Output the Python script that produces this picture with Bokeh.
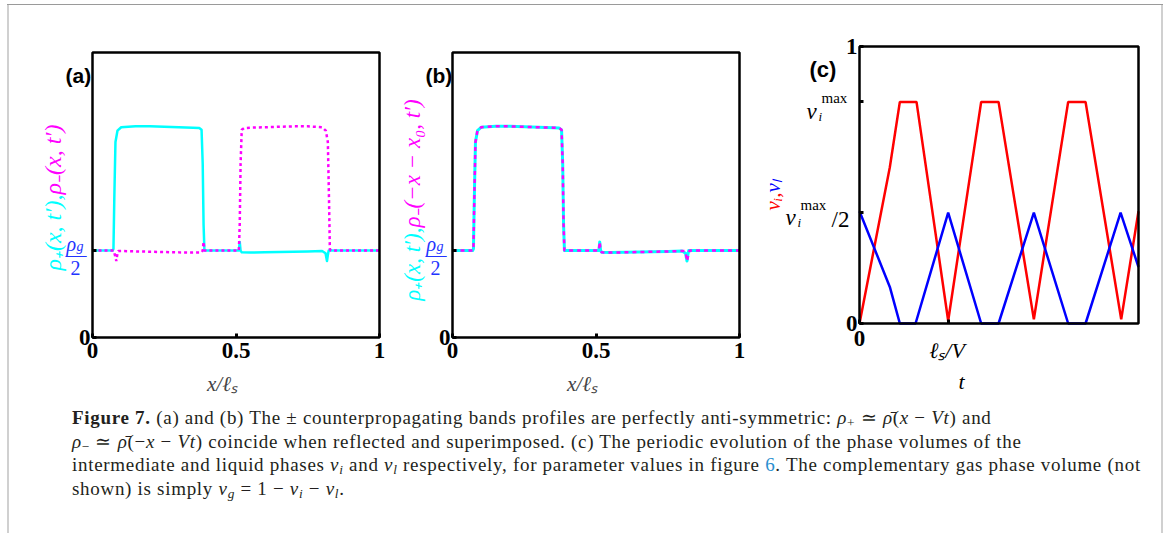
import numpy as np
from math import pi
from bokeh.plotting import figure
from bokeh.models import Div, FixedTicker, Range1d, BoxAnnotation
from bokeh.core.properties import value
from bokeh.layouts import row, column
from bokeh.embed import file_html
from bokeh.resources import INLINE

# ---------------- data ----------------
# rho_+(x, t') in units of rho_g/2, x in units of l_s
x_plus = [0.0, 0.070, 0.073, 0.076, 0.080, 0.087, 0.10, 0.15, 0.20, 0.25, 0.30, 0.35,
          0.372, 0.380, 0.384, 0.387, 0.390, 0.45, 0.510, 0.513, 0.516, 0.520, 0.55,
          0.60, 0.65, 0.70, 0.75, 0.80, 0.812, 0.817, 0.820, 0.823, 0.85, 0.90, 1.0]
rho_plus = [1.0, 1.0, 1.02, 1.6, 2.25, 2.38, 2.42, 2.43, 2.43, 2.425, 2.42, 2.415,
            2.41, 2.39, 2.0, 1.3, 1.0, 1.0, 1.0, 1.1, 1.0, 0.98, 0.978,
            0.98, 0.983, 0.987, 0.99, 0.995, 0.97, 0.88, 0.95, 1.0, 1.0, 1.0, 1.0]

# rho_-(x, t') in the same units
x_minus = [0.0, 0.074, 0.078, 0.083, 0.087, 0.09, 0.10, 0.20, 0.30, 0.35, 0.380,
           0.384, 0.387, 0.390, 0.45, 0.510, 0.513, 0.516, 0.520, 0.528, 0.55, 0.60,
           0.65, 0.70, 0.75, 0.80, 0.813, 0.820, 0.824, 0.827, 0.830, 0.90, 1.0]
rho_minus = [1.0, 1.0, 0.95, 0.88, 0.97, 0.995, 0.995, 0.987, 0.98, 0.978, 0.98,
             1.0, 1.1, 1.0, 1.0, 1.0, 1.3, 2.0, 2.39, 2.41, 2.415, 2.42,
             2.425, 2.43, 2.43, 2.42, 2.38, 2.25, 1.6, 1.02, 1.0, 1.0, 1.0]
x0_shift = 0.1          # x0 in rho_-(-x - x0, t')

# phase volumes over time (t in units of l_s / V)
t_i = [0.0, 0.342, 0.455, 0.643, 1.0, 1.372, 1.568, 1.966, 2.353, 2.549, 2.951, 3.146]
nu_i = [0.0, 0.564, 0.8, 0.8, 0.01, 0.8, 0.8, 0.015, 0.8, 0.8, 0.015, 0.405]
t_l = [0.0, 0.342, 0.455, 0.632, 1.0, 1.372, 1.568, 1.966, 2.353, 2.549, 2.944, 3.146]
nu_l = [0.405, 0.132, 0.0, 0.0, 0.4, 0.0, 0.0, 0.4, 0.0, 0.0, 0.4, 0.204]

x_ticks = [0, 0.5, 1]
x_tick_labels = {0: "0", 0.5: "0.5", 1: "1"}
rho_ticks = [0, 1.0]
nu_ticks = [0, 0.4, 0.8, 1.0]
t_ticks = [0, 1]

RHO_RANGE = (0, 3.28)
X_RANGE = (0, 1)
T_RANGE = (0, 3.146)
NU_RANGE = (0, 1)

CYAN, MAGENTA, RED, BLUE, LBLUE = "#00FFFF", "#FF00FF", "#FF0000", "#0000FF", "#2233FF"
SERIF = "Liberation Serif"
SANS = "Liberation Sans"
FIG_H = 395
FIG_TOP = 5


def panel(canvas_x, box, xr, yr, xticks, yticks, x_standoff):
    """One panel whose frame fills its canvas; the plot box sits inside it.

    canvas_x: (left, right) page pixels of the figure
    box:      (left, top, right, bottom) page pixels of the plot box
    """
    c0, c1 = canvas_x
    bl, bt, br, bb = box
    sx = (xr[1] - xr[0]) / (br - bl)
    sy = (yr[1] - yr[0]) / (bb - bt)
    x_full = (xr[0] + (c0 - bl) * sx, xr[0] + (c1 - bl) * sx)
    y_full = (yr[0] + (bb - (FIG_TOP + FIG_H)) * sy, yr[0] + (bb - FIG_TOP) * sy)
    p = figure(width=c1 - c0, height=FIG_H,
               x_range=Range1d(*x_full), y_range=Range1d(*y_full),
               output_backend="svg", toolbar_location=None,
               min_border_left=0, min_border_right=0, min_border_top=0, min_border_bottom=0)
    # page-pixel coordinates for the annotation texts
    p.extra_x_ranges = {"px": Range1d(c0, c1)}
    p.extra_y_ranges = {"px": Range1d(FIG_TOP + FIG_H, FIG_TOP)}
    p.grid.visible = False
    p.outline_line_color = None
    p.background_fill_color = "white"
    p.border_fill_color = "white"
    p.xaxis.ticker = FixedTicker(ticks=xticks)
    p.yaxis.ticker = FixedTicker(ticks=yticks)
    p.xaxis.fixed_location = yr[0]
    p.yaxis.fixed_location = xr[0]
    for ax in (p.xaxis, p.yaxis):
        ax.axis_line_color = None
        ax.major_tick_in = 4
        ax.major_tick_out = 0
        ax.major_tick_line_width = 3
        ax.minor_tick_line_color = None
        ax.major_label_text_font = SERIF
        ax.major_label_text_font_style = "bold"
        ax.major_label_text_font_size = "23px"
        ax.major_label_text_color = "black"
    p.xaxis.major_label_standoff = x_standoff
    p.yaxis.major_label_standoff = 2
    p.add_layout(BoxAnnotation(left=xr[0], right=xr[1], bottom=yr[0], top=yr[1],
                               fill_color=None, fill_alpha=0,
                               line_color="black", line_alpha=1, line_width=2.5,
                               level="overlay"))
    return p


def put(p, px, py, text, size, color="black", font=SERIF, style="normal",
        align="left", baseline="alphabetic", angle=0.0):
    p.text(x=[px], y=[py], text=[text], x_range_name="px", y_range_name="px",
           text_font=value(font), text_font_size=value(f"{size}px"),
           text_font_style=style, text_color=color, text_align=align,
           text_baseline=baseline, angle=angle)


def rho_texts(p, ox, letter, cy_text, mg_text, join, size):
    put(p, 65 + ox, 75, letter, 21, font=SANS, style="bold")
    # two-coloured axis title, read bottom to top
    put(p, 52 + ox, join, cy_text, size, color=CYAN, style="italic",
        align="right", baseline="middle", angle=pi / 2)
    put(p, 52 + ox, join, mg_text, size, color=MAGENTA, style="italic",
        align="left", baseline="middle", angle=pi / 2)
    # rho_g / 2 as a stacked fraction on the tick
    put(p, 66 + ox, 243, "ρ", 20, color=LBLUE, style="italic")
    put(p, 76 + ox, 246, "g", 14, color=LBLUE, style="italic")
    put(p, 75.5 + ox, 254, "—", 21, color=LBLUE, align="center")
    put(p, 75 + ox, 267, "2", 20, color=LBLUE, align="center")
    put(p, 222 + ox, 383, "x/ℓₛ", 21, color="#444444", style="italic", align="center")


# ---- (a) ----
pa = panel((9, 395), (92, 52, 379, 337), X_RANGE, RHO_RANGE, x_ticks, rho_ticks, 5)
pa.xaxis.major_label_overrides = x_tick_labels
pa.yaxis.major_label_overrides = {0: "0", 1.0: ""}
pa.line(x_plus, rho_plus, line_color=CYAN, line_width=2.5, line_join="round")
pa.line(x_minus, rho_minus, line_color=MAGENTA, line_width=2.5, line_dash="3 3")
rho_texts(pa, 0, "(a)", "ρ₊(x, t′),", "ρ₋(x, t′)", 194, 24)

# ---- (b) ----
pb = panel((395, 755), (452, 52, 739, 337), X_RANGE, RHO_RANGE, x_ticks, rho_ticks, 5)
pb.xaxis.major_label_overrides = x_tick_labels
pb.yaxis.major_label_overrides = {0: "0", 1.0: ""}
# rho_-(-x - x0): reflect and shift, then keep one period on [0, 1]
xb = (-np.asarray(x_minus) - x0_shift) % 1.0
rb = np.asarray(rho_minus)
xb_all = np.concatenate([xb - 1, xb, xb + 1])
rb_all = np.concatenate([rb, rb, rb])
keep = (xb_all >= -1e-9) & (xb_all <= 1 + 1e-9)
order = np.argsort(xb_all[keep], kind="stable")
xb_period = xb_all[keep][order]
rb_period = rb_all[keep][order]
pb.line(x_plus, rho_plus, line_color=CYAN, line_width=3, line_join="round")
pb.line(xb_period, rb_period, line_color=MAGENTA, line_width=2.5, line_dash="4 4")
rho_texts(pb, 360, "(b)", "ρ₊(x, t′),", "ρ₋(−x − x₀, t′)", 227, 23)

# ---- (c) ----
pc = panel((755, 1161), (859, 46, 1138, 323), T_RANGE, NU_RANGE, t_ticks, nu_ticks, 7)
pc.xaxis.major_label_overrides = {0: "0", 1: ""}
pc.yaxis.major_label_overrides = {0: "0", 0.4: "", 0.8: "", 1.0: "1"}
pc.line(t_i, nu_i, line_color=RED, line_width=2.5)
pc.line(t_l, nu_l, line_color=BLUE, line_width=2.5)
put(pc, 809, 69, "(c)", 22, font=SANS, style="bold")
put(pc, 772, 192, "νᵢ,", 21, color=RED, style="italic", align="right",
    baseline="middle", angle=pi / 2)
put(pc, 772, 192, "νₗ", 21, color=BLUE, style="italic", align="left",
    baseline="middle", angle=pi / 2)
# nu_i^max
put(pc, 806, 111, "ν", 23, style="italic")
put(pc, 821, 97, "max", 15)
put(pc, 818, 116, "i", 13, style="italic")
# nu_i^max / 2
put(pc, 785, 217, "ν", 23, style="italic")
put(pc, 800, 204, "max", 15)
put(pc, 797, 222, "i", 13, style="italic")
put(pc, 831, 219, "/2", 23)
put(pc, 946.5, 350, "ℓₛ/V", 22, style="italic", align="center")
put(pc, 961, 381, "t", 22, style="italic", align="center")

# ---- caption ----
sub = "font-size:0.7em;vertical-align:-0.25em;line-height:0"
caption_html = f"""
<div style="font-family:'Liberation Serif';font-size:19px;letter-spacing:0.7px;line-height:23.5px;
color:#231f20;padding-left:63px;padding-top:6px;white-space:nowrap">
<div><b>Figure 7.</b> (a) and (b) The ± counterpropagating bands profiles are perfectly anti-symmetric:
<i>ρ</i><span style="{sub}">+</span> ≃ <i>ρ̄</i>(<i>x</i> − <i>Vt</i>) and</div>
<div><i>ρ</i><span style="{sub}">−</span> ≃ <i>ρ̄</i>(−<i>x</i> − <i>Vt</i>) coincide when reflected and superimposed. (c) The periodic evolution of the phase volumes of the</div>
<div>intermediate and liquid phases <i>ν<span style="{sub}">i</span></i> and <i>ν<span style="{sub}">l</span></i> respectively, for parameter values in figure <span style="color:#2a8fcf">6</span>. The complementary gas phase volume (not</div>
<div>shown) is simply <i>ν<span style="{sub}">g</span></i> = 1 − <i>ν<span style="{sub}">i</span></i> − <i>ν<span style="{sub}">l</span></i>.</div>
</div>
"""
caption = Div(text=caption_html, width=1152, height=128, margin=0)


def bar(w, h, color=None):
    styles = {"background-color": color} if color else {}
    return Div(text="", width=w, height=h, margin=0, styles=styles)


content = column(row(pa, pb, pc, spacing=0), caption, spacing=0)
page = column(
    bar(1167, 4),
    row(bar(7, 1), bar(1156, 1, "#9a9a9a"), spacing=0),
    row(bar(7, 528), bar(2, 528, "#d0d0d0"), content, bar(2, 528, "#d0d0d0"), spacing=0),
    spacing=0,
)

with open("out.html", "w") as f:
    f.write(file_html(page, INLINE))
